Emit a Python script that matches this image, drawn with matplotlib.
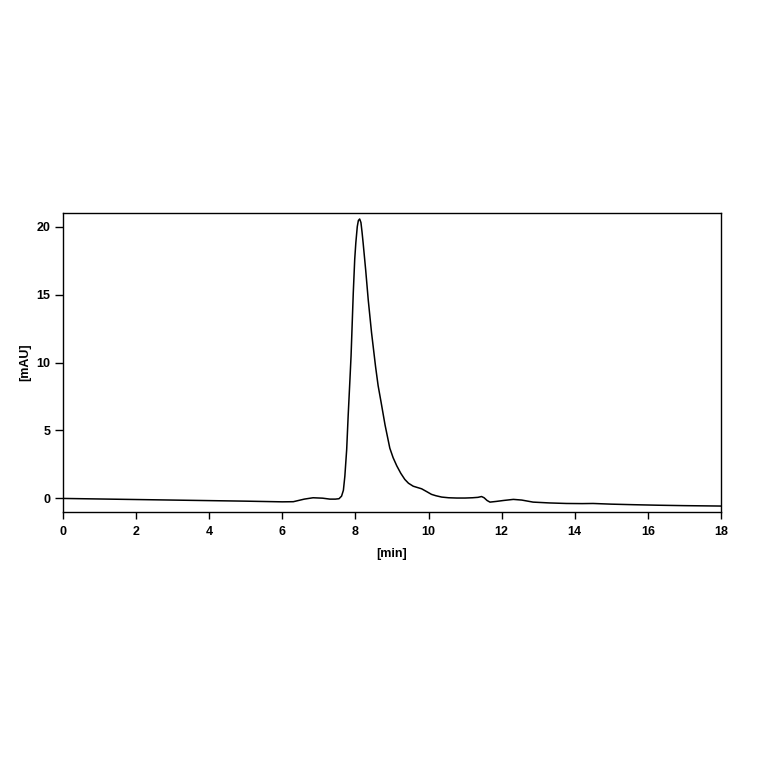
import numpy as np
import matplotlib.pyplot as plt

plt.rcParams['font.family'] = ['Liberation Sans', 'DejaVu Sans']

# retention time [min] and absorbance [mAU]
time = [0.0, 1.0, 2.0, 3.0, 4.0, 5.0, 6.0, 6.3, 6.6, 6.84, 7.1, 7.3, 7.45, 7.55,
        7.62, 7.67, 7.71, 7.76, 7.80, 7.85, 7.88, 7.91, 7.94, 7.98, 8.01, 8.05,
        8.08, 8.115, 8.15, 8.18, 8.21, 8.28, 8.35, 8.44, 8.55, 8.62, 8.70, 8.81,
        8.94, 9.03, 9.13, 9.24, 9.35, 9.45, 9.58, 9.70, 9.81, 9.95, 10.08, 10.2,
        10.36, 10.55, 10.77, 11.0, 11.2, 11.35, 11.45, 11.52, 11.60, 11.68, 11.85,
        12.05, 12.32, 12.55, 12.86, 13.3, 13.77, 14.2, 14.5, 15.0, 15.6, 16.3,
        17.0, 18.0]
signal = [0.0, -0.04, -0.08, -0.12, -0.16, -0.20, -0.25, -0.24, -0.05, 0.05,
          0.02, -0.05, -0.05, -0.02, 0.17, 0.6, 1.64, 3.6, 6.05, 8.8, 10.5, 12.8,
          15.1, 17.6, 18.8, 20.0, 20.45, 20.56, 20.3, 19.6, 18.8, 16.8, 14.6, 12.2,
          9.7, 8.3, 7.1, 5.4, 3.7, 3.0, 2.4, 1.85, 1.4, 1.12, 0.9, 0.8, 0.71, 0.5,
          0.3, 0.2, 0.1, 0.05, 0.03, 0.03, 0.05, 0.08, 0.14, 0.05, -0.15, -0.27,
          -0.22, -0.15, -0.07, -0.12, -0.27, -0.33, -0.37, -0.38, -0.37, -0.42,
          -0.46, -0.5, -0.53, -0.56]

fig = plt.figure(figsize=(7.64, 7.64), dpi=100)
ax = fig.add_axes([0.0825, 0.3298, 0.8612, 0.3914])
ax.plot(time, signal, color='black', lw=1.1)

ax.set_xlim(0, 18)
ax.set_ylim(-1, 21)
ax.set_xticks(np.arange(0, 19, 2))
ax.set_yticks([0, 5, 10, 15, 20])
ax.tick_params(direction='out', width=1, labelsize=9)
ax.tick_params(axis='x', length=5, pad=5)
ax.tick_params(axis='y', length=6, pad=3)
for lab in ax.get_xticklabels() + ax.get_yticklabels():
    lab.set_fontweight('bold')
for s in ax.spines.values():
    s.set_linewidth(1)

ax.set_xlabel('[min]', fontsize=9, fontweight='bold', labelpad=7)
ax.set_ylabel('[mAU]', fontsize=9, fontweight='bold', labelpad=4)

fig.savefig('out.png', dpi=100)
